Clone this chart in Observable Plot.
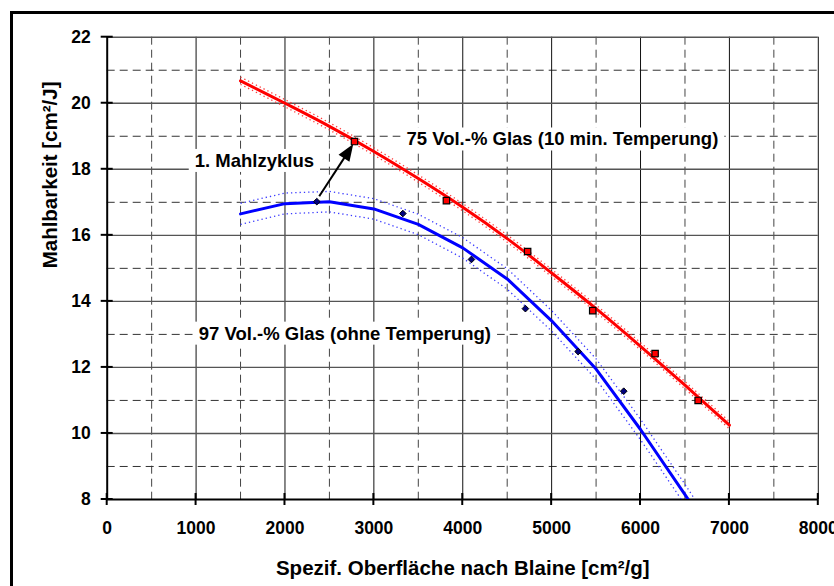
<!DOCTYPE html>
<html>
<head>
<meta charset="utf-8">
<script src="https://cdn.jsdelivr.net/npm/d3@7"></script>
<script src="https://cdn.jsdelivr.net/npm/@observablehq/plot@0.6"></script>
<style>
  html, body { margin: 0; padding: 0; background: #fff; overflow: hidden; }
  #wrap { position: relative; width: 834px; height: 586px; overflow: hidden; background: #fff; }
  #chart { position: absolute; left: 0; top: 0; }
  #frame { position: absolute; left: 10px; top: 11px; width: 1000px; height: 1000px; border: 3px solid #000; pointer-events: none; z-index: 2; }
</style>
</head>
<body>
<div id="wrap"><div id="chart"></div><div id="frame"></div></div>
<script>
// ---- data ----
const xMajor = [1000, 2000, 3000, 4000, 5000, 6000, 7000, 8000];
const xMinor = [500, 1500, 2500, 3500, 4500, 5500, 6500, 7500];
const xTicks = [0, 1000, 2000, 3000, 4000, 5000, 6000, 7000, 8000];
const yMajor = [10, 12, 14, 16, 18, 20, 22];
const yMinor = [9, 11, 13, 15, 17, 19, 21];
const yTicks = [8, 10, 12, 14, 16, 18, 20, 22];

const curveX    = [1500, 2000, 2500, 3000, 3500, 4000, 4500, 5000, 5500, 6000, 6500, 7000];
const redFit    = [20.68, 20.00, 19.30, 18.54, 17.72, 16.85, 15.90, 14.86, 13.78, 12.64, 11.46, 10.25];
const redUpper  = [20.79, 20.11, 19.41, 18.65, 17.83, 16.96, 16.01, 14.97, 13.89, 12.75, 11.57, 10.36];
const redLower  = [20.57, 19.89, 19.19, 18.43, 17.61, 16.74, 15.79, 14.75, 13.67, 12.53, 11.35, 10.14];
const blueFit   = [16.65, 16.96, 17.02, 16.80, 16.33, 15.62, 14.68, 13.41, 11.95, 10.12, 8.15, 6.10];
const blueUpper = [16.97, 17.28, 17.33, 17.11, 16.64, 15.93, 14.99, 13.72, 12.26, 10.43, 8.46, 6.41];
const blueLower = [16.33, 16.65, 16.71, 16.49, 16.02, 15.31, 14.37, 13.10, 11.64, 9.81, 7.84, 5.79];

const redPtsX  = [2782, 3816, 4730, 5462, 6164, 6648];
const redPtsY  = [18.84, 17.05, 15.51, 13.72, 12.42, 11.00];
const bluePtsX = [2358, 3326, 4098, 4705, 5298, 5811];
const bluePtsY = [17.02, 16.66, 15.27, 13.78, 12.48, 11.28];

const labelText = ["1. Mahlzyklus", "75 Vol.-% Glas (10 min. Temperung)", "97 Vol.-% Glas (ohne Temperung)"];
const labelX = [985, 3367, 1030];
const labelY = [18.25, 18.90, 13.02];

const arrowFrom = [2391, 17.17];
const arrowTo   = [2774, 18.75];

const xTitle = "Spezif. Oberfläche nach Blaine [cm²/g]";
const yTitle = "Mahlbarkeit [cm²/J]";

// ---- tables ----
const rows = (ys) => curveX.map((x, i) => ({x, y: ys[i]}));
const redPts = redPtsX.map((x, i) => ({x, y: redPtsY[i]}));
const bluePts = bluePtsX.map((x, i) => ({x, y: bluePtsY[i]}));
const labels = labelText.map((t, i) => ({t, x: labelX[i], y: labelY[i]}));

const FONT = "'Liberation Sans', Arial, Helvetica, sans-serif";
const dotted = {strokeWidth: 1.3, strokeDasharray: "1.3,3", strokeLinecap: "butt", clip: true};

const ticksMark = (index, scales) => {
  const g = d3.create("svg:g").attr("stroke", "black").attr("stroke-width", 2);
  const y0 = scales.y(8), x0 = scales.x(0);
  for (const t of xTicks) {
    const x = scales.x(t);
    g.append("line").attr("x1", x).attr("x2", x).attr("y1", y0 - 6).attr("y2", y0 + 6);
  }
  for (const t of yTicks) {
    const y = scales.y(t);
    g.append("line").attr("x1", x0 - 6).attr("x2", x0 + 6).attr("y1", y).attr("y2", y);
  }
  return g.node();
};

const arrowMark = (index, scales) => {
  const g = d3.create("svg:g");
  const x1 = scales.x(arrowFrom[0]), y1 = scales.y(arrowFrom[1]);
  const x2 = scales.x(arrowTo[0]), y2 = scales.y(arrowTo[1]);
  const a = Math.atan2(y2 - y1, x2 - x1);
  const hl = 17, hw = 6.5;
  const bx = x2 - hl * Math.cos(a), by = y2 - hl * Math.sin(a);
  g.append("line").attr("x1", x1).attr("y1", y1).attr("x2", bx + 2 * Math.cos(a)).attr("y2", by + 2 * Math.sin(a))
    .attr("stroke", "black").attr("stroke-width", 2);
  const px = -Math.sin(a), py = Math.cos(a);
  g.append("path")
    .attr("d", `M${x2},${y2}L${bx + hw * px},${by + hw * py}L${bx - hw * px},${by - hw * py}Z`)
    .attr("fill", "black");
  return g.node();
};

const svg = Plot.plot({
  width: 834,
  height: 586,
  marginLeft: 106.7,
  marginRight: 16.2,
  marginTop: 36.7,
  marginBottom: 87,
  style: {fontFamily: FONT, fontSize: "17.5px", fontWeight: "bold", color: "black", background: "white", overflow: "visible"},
  x: {domain: [0, 8000], ticks: xTicks, tickFormat: d3.format("d"), tickSize: 0, tickPadding: 22, label: null},
  y: {domain: [8, 22], ticks: yTicks, tickSize: 0, tickPadding: 16.5, label: null},
  marks: [
    Plot.ruleX(xMinor, {stroke: "#444", strokeWidth: 1, strokeDasharray: "8,5"}),
    Plot.ruleY(yMinor, {stroke: "#333", strokeWidth: 1, strokeDasharray: "8,5"}),
    Plot.ruleX(xMajor, {stroke: "#111", strokeWidth: 1}),
    Plot.ruleY(yMajor, {stroke: "#555", strokeWidth: 1.4}),
    Plot.ruleX([0], {stroke: "black", strokeWidth: 2}),
    Plot.ruleY([8], {stroke: "black", strokeWidth: 2}),
    ticksMark,
    Plot.line(rows(redUpper), {x: "x", y: "y", stroke: "#ff3c3c", ...dotted, curve: "catmull-rom"}),
    Plot.line(rows(redLower), {x: "x", y: "y", stroke: "#ff3c3c", ...dotted, curve: "catmull-rom"}),
    Plot.line(rows(blueUpper), {x: "x", y: "y", stroke: "#3a3aff", ...dotted, curve: "linear"}),
    Plot.line(rows(blueLower), {x: "x", y: "y", stroke: "#3a3aff", ...dotted, curve: "linear"}),
    Plot.line(rows(redFit), {x: "x", y: "y", stroke: "#ff0000", strokeWidth: 3, curve: "catmull-rom", clip: true}),
    Plot.line(rows(blueFit), {x: "x", y: "y", stroke: "#0000ff", strokeWidth: 3, curve: "linear", clip: true}),
    Plot.dot(bluePts, {x: "x", y: "y", symbol: "diamond2", r: 3, fill: "#000080", stroke: "black", strokeWidth: 1}),
    Plot.dot(redPts, {x: "x", y: "y", symbol: "square", r: 3.6, fill: "#ff0000", stroke: "black", strokeWidth: 1.2}),
    arrowMark,
    Plot.text(labels, {x: "x", y: "y", text: "t", textAnchor: "start", lineAnchor: "middle", fontSize: 18.5, fontWeight: "bold", fill: "black"}),
    Plot.text([xTitle], {frameAnchor: "bottom", dy: 69, lineAnchor: "middle", fontSize: 20.5, fontWeight: "bold", fill: "black"}),
    Plot.text([yTitle], {frameAnchor: "left", dx: -56.3, rotate: -90, lineAnchor: "middle", fontSize: 20.5, fontWeight: "bold", fill: "black"})
  ]
});

document.getElementById("chart").append(svg);

// white boxes behind the annotation labels
const NS = "http://www.w3.org/2000/svg";
svg.querySelectorAll("text").forEach(t => {
  if (!labelText.includes(t.textContent)) return;
  const b = t.getBBox();
  const r = document.createElementNS(NS, "rect");
  r.setAttribute("x", b.x - 6);
  r.setAttribute("y", b.y - 1);
  r.setAttribute("width", b.width + 12);
  r.setAttribute("height", b.height + 2);
  r.setAttribute("fill", "white");
  r.setAttribute("stroke", "none");
  const tr = t.getAttribute("transform");
  if (tr) r.setAttribute("transform", tr);
  t.parentNode.insertBefore(r, t);
});
</script>
</body>
</html>
